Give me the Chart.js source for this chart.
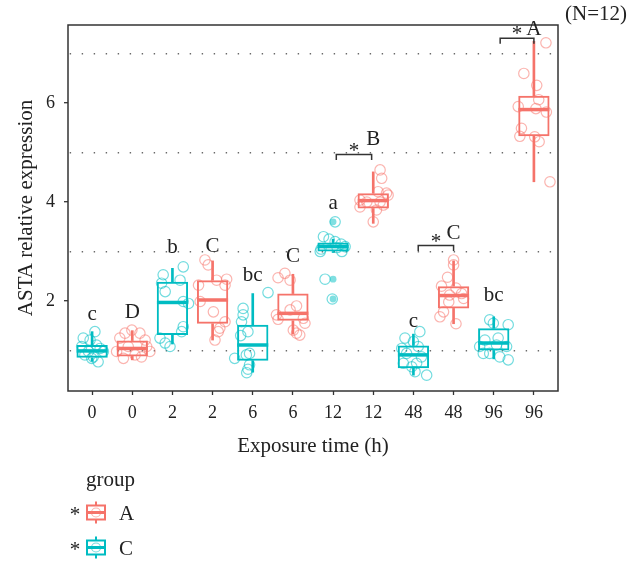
<!DOCTYPE html>
<html>
<head>
<meta charset="utf-8">
<script src="https://cdn.jsdelivr.net/npm/chart.js@4/dist/chart.umd.min.js"></script>
<style>
  html, body { margin: 0; padding: 0; background: #fff; }
  #wrap { width: 643px; height: 565px; }
</style>
</head>
<body>
<div id="wrap"><canvas id="chart" width="643" height="565"></canvas></div>
<script>
// Exposure-time categories (one box per time point and group)
const timeLabels = ['0', '0', '2', '2', '6', '6', '12', '12', '48', '48', '96', '96'];
const boxGroup   = ['C', 'A', 'C', 'A', 'C', 'A', 'C', 'A', 'C', 'A', 'C', 'A'];

// Box statistics per position
const whiskerLow    = [0.78, 0.81, 1.13, 1.21, 0.56, 1.33, 2.98, 3.57, 0.50, 1.54, 0.83, 4.41];
const lowerQuartile = [0.85, 0.88, 1.31, 1.54, 0.79, 1.60, 3.00, 3.87, 0.64, 1.85, 1.00, 5.33];
const medianValue   = [0.99, 1.04, 1.97, 2.02, 1.11, 1.75, 3.10, 4.03, 0.91, 2.11, 1.15, 5.87];
const upperQuartile = [1.11, 1.20, 2.39, 2.42, 1.52, 2.15, 3.18, 4.18, 1.10, 2.30, 1.45, 6.15];
const whiskerHigh   = [1.38, 1.40, 2.66, 2.81, 2.15, 2.54, 3.25, 4.61, 1.33, 2.81, 1.68, 7.25];

// Outlying samples of the 12 h C box
const outliers12hC = [3.60, 2.44, 2.04];

// Individual samples: [jitter offset on the x axis, relative expression]
const pts0hC  = [[0.07,1.38],[-0.22,1.25],[-0.05,1.21],[-0.26,1.08],[0.20,1.04],[-0.18,0.91],[0.03,0.87],[0.15,0.77],[0.28,0.98],[-0.09,0.98],[0.11,1.11],[-0.01,0.84]];
const pts0hA  = [[-0.01,1.41],[-0.18,1.35],[0.19,1.35],[-0.31,1.25],[0.32,1.21],[-0.39,0.98],[-0.22,0.84],[0.23,0.87],[0.44,0.98],[0.07,0.91],[-0.10,1.08],[0.36,1.08]];
const pts2hC  = [[0.27,2.69],[-0.23,2.53],[0.19,2.42],[-0.27,2.36],[-0.18,2.19],[0.27,1.99],[0.40,1.95],[0.27,1.48],[0.23,1.38],[-0.31,1.25],[-0.18,1.15],[-0.06,1.08]];
const pts2hA  = [[-0.19,2.83],[-0.11,2.73],[0.10,2.42],[0.35,2.44],[-0.35,2.32],[0.31,2.32],[-0.31,1.99],[0.02,1.78],[0.31,1.58],[0.18,1.45],[0.14,1.38],[0.06,1.21]];
const pts6hC  = [[0.38,2.17],[-0.24,1.85],[-0.24,1.72],[-0.28,1.58],[-0.12,1.38],[-0.30,1.30],[-0.08,0.94],[-0.45,0.84],[-0.16,0.91],[-0.08,0.71],[-0.12,0.62],[-0.15,0.55]];
const pts6hA  = [[-0.37,2.47],[-0.20,2.56],[-0.07,2.42],[0.09,1.90],[-0.07,1.82],[-0.41,1.72],[-0.37,1.63],[0.30,1.55],[0.01,1.41],[0.09,1.35],[0.17,1.31],[0.26,1.65]];
const pts12hC = [[0.05,3.60],[-0.24,3.30],[-0.10,3.25],[0.05,3.20],[0.20,3.15],[0.30,3.10],[-0.30,3.05],[-0.32,3.00],[0.22,3.00],[0.10,3.08],[-0.20,2.44],[-0.02,2.04]];
const pts12hA = [[0.17,4.65],[0.21,4.48],[0.12,4.21],[-0.33,4.04],[-0.16,4.00],[0.17,4.00],[0.37,4.14],[-0.33,3.90],[0.08,3.84],[0.25,3.94],[0.00,3.60],[0.33,4.18]];
const pts48hC = [[0.16,1.38],[-0.21,1.25],[0.00,1.18],[-0.29,1.04],[0.12,1.08],[-0.17,0.94],[0.20,0.87],[-0.25,0.74],[-0.04,0.67],[0.08,0.74],[0.04,0.57],[0.33,0.50]];
const pts48hA = [[0.00,2.83],[0.00,2.73],[-0.15,2.48],[-0.30,2.30],[0.06,2.26],[0.20,2.15],[-0.10,2.12],[0.25,2.05],[-0.12,1.98],[-0.25,1.78],[-0.34,1.68],[0.06,1.54]];
const pts96hC = [[-0.10,1.62],[-0.01,1.55],[0.36,1.52],[0.11,1.25],[-0.22,1.21],[-0.26,0.94],[-0.10,0.94],[0.15,0.87],[0.36,0.81],[0.32,1.08],[-0.35,1.08],[0.07,1.11]];
const pts96hA = [[0.30,7.22],[-0.25,6.60],[0.07,6.36],[0.12,6.07],[-0.39,5.93],[0.05,5.89],[0.31,5.82],[-0.31,5.49],[-0.35,5.33],[0.02,5.32],[0.13,5.22],[0.40,4.41]];
const samplesByBox = [pts0hC, pts0hA, pts2hC, pts2hA, pts6hC, pts6hA, pts12hC, pts12hA, pts48hC, pts48hA, pts96hC, pts96hA];

// Significance letters (baseline value) per box
const sigLetters     = ['c', 'D', 'b', 'C', 'bc', 'C', 'a', 'B', 'c', 'C', 'bc', 'A'];
const letterBaseline = [1.62, 1.66, 2.98, 3.00, 2.41, 2.79, 3.85, 5.15, 1.48, 3.25, 1.99, 7.37];

// Pairwise comparison brackets
const bracketFrom = [7.08, 9.12, 11.16];
const bracketTo   = [7.96, 10.00, 12.00];
const bracketAt   = [4.96, 3.12, 7.31];
const bracketMark = ['*', '*', '*'];

// Y axis ticks: labelled even values, dotted reference lines at odd values
const yTickValues = [1, 2, 3, 4, 5, 6, 7];
const yLabelled   = [2, 4, 6];

const groupNames = ['A', 'C'];
const groupColor = { A: 'rgb(245,115,106)', C: 'rgb(0,188,194)' };
const groupFaint = { A: 'rgba(248,118,109,0.55)', C: 'rgba(0,191,196,0.55)' };
const groupFill  = { A: 'rgba(248,118,109,0.5)', C: 'rgba(0,191,196,0.5)' };

const SERIF = '"Liberation Serif", "DejaVu Serif", serif';
const INK = '#222';

function datasetsFor(g) {
  const idx = boxGroup.map((b, i) => b === g ? i : -1).filter(i => i >= 0);
  const whiskers = [];
  idx.forEach(i => {
    whiskers.push({ x: i + 1, y: [whiskerLow[i], lowerQuartile[i]] });
    whiskers.push({ x: i + 1, y: [upperQuartile[i], whiskerHigh[i]] });
  });
  const boxes = idx.map(i => ({ x: i + 1, y: [lowerQuartile[i], upperQuartile[i]] }));
  const medians = idx.map(i => ({ x: i + 1, y: medianValue[i] }));
  const samples = [];
  idx.forEach(i => samplesByBox[i].forEach(([dx, v]) => samples.push({ x: i + 1 + dx, y: v })));
  return [
    { type: 'bar', label: g + ' whisker', data: whiskers, grouped: false, barThickness: 2,
      backgroundColor: groupColor[g], borderWidth: 0, order: 5 },
    { type: 'bar', label: g + ' box', data: boxes, grouped: false, barPercentage: 0.78, categoryPercentage: 1,
      backgroundColor: 'rgba(255,255,255,0)', borderColor: groupColor[g], borderWidth: 2,
      borderSkipped: false, order: 4 },
    { type: 'scatter', label: g + ' median', data: medians, pointStyle: 'line', pointRadius: 15.5,
      borderColor: groupColor[g], borderWidth: 3.5, order: 3 },
    { type: 'scatter', label: g, data: samples, pointStyle: 'circle', pointRadius: 5.2,
      borderColor: groupFaint[g], backgroundColor: 'rgba(0,0,0,0)', borderWidth: 1.2, order: 1 }
  ];
}

const outlierSet = {
  type: 'scatter', label: 'C outliers',
  data: outliers12hC.map(v => ({ x: 7, y: v })),
  pointStyle: 'circle', pointRadius: 3.4, borderWidth: 0,
  backgroundColor: groupFill.C, order: 2
};

// Frame, significance annotations, sample-size note and legend
const overlay = {
  id: 'overlay',
  afterDraw(chart) {
    const { ctx, chartArea: a, scales: { x, y } } = chart;
    ctx.save();
    ctx.strokeStyle = '#333';
    ctx.lineWidth = 1.5;
    ctx.strokeRect(a.left, a.top, a.right - a.left, a.bottom - a.top);

    ctx.fillStyle = INK;
    ctx.font = '21px ' + SERIF;
    ctx.textAlign = 'center';
    ctx.textBaseline = 'alphabetic';
    sigLetters.forEach((t, i) => {
      ctx.fillText(t, x.getPixelForValue(i + 1), y.getPixelForValue(letterBaseline[i]));
    });

    ctx.lineWidth = 1.5;
    bracketAt.forEach((v, i) => {
      const x1 = x.getPixelForValue(bracketFrom[i]);
      const x2 = x.getPixelForValue(bracketTo[i]);
      const yy = y.getPixelForValue(v);
      ctx.beginPath();
      ctx.moveTo(x1, yy + 5.5);
      ctx.lineTo(x1, yy);
      ctx.lineTo(x2, yy);
      ctx.lineTo(x2, yy + 5.5);
      ctx.stroke();
      ctx.fillText(bracketMark[i], (x1 + x2) / 2, yy + 2);
    });

    ctx.textAlign = 'left';
    ctx.fillText('(N=12)', 565, 19.5);

    // legend
    ctx.fillText('group', 86, 486);
    groupNames.forEach((g, k) => {
      const cy = 512.5 + k * 35;
      ctx.fillStyle = INK;
      ctx.textAlign = 'center';
      ctx.fillText('*', 75, cy + 8);
      ctx.textAlign = 'left';
      ctx.fillText(g, 119, cy + 7);
      ctx.strokeStyle = groupColor[g];
      ctx.lineWidth = 2;
      ctx.strokeRect(87, cy - 7, 18, 14);
      ctx.beginPath();
      ctx.moveTo(96, cy - 11); ctx.lineTo(96, cy - 7);
      ctx.moveTo(96, cy + 7); ctx.lineTo(96, cy + 11);
      ctx.stroke();
      ctx.lineWidth = 3;
      ctx.beginPath();
      ctx.moveTo(87, cy); ctx.lineTo(105, cy);
      ctx.stroke();
      ctx.strokeStyle = groupFaint[g];
      ctx.lineWidth = 1.2;
      ctx.beginPath();
      ctx.arc(96, cy, 4.5, 0, Math.PI * 2);
      ctx.stroke();
    });
    ctx.restore();
  }
};

Chart.defaults.font.family = SERIF;
Chart.defaults.color = INK;

new Chart(document.getElementById('chart'), {
  type: 'bar',
  data: { datasets: [...datasetsFor('C'), ...datasetsFor('A'), outlierSet] },
  options: {
    responsive: false,
    animation: false,
    events: [],
    layout: { padding: { top: 25, right: 85, left: 0, bottom: 0 } },
    plugins: { legend: { display: false }, tooltip: { enabled: false } },
    scales: {
      x: {
        type: 'linear', min: 0.4, max: 12.6, offset: false,
        afterBuildTicks: axis => { axis.ticks = timeLabels.map((_, i) => ({ value: i + 1 })); },
        afterFit: axis => { axis.height = 174; },
        ticks: { callback: v => timeLabels[v - 1], font: { size: 18 }, color: INK, padding: 7, maxRotation: 0, autoSkip: false },
        grid: { offset: false, drawOnChartArea: false, drawTicks: true, tickLength: 4, tickColor: '#333', tickWidth: 1.3 },
        border: { display: false },
        title: { display: true, text: 'Exposure time (h)', font: { size: 21 }, color: INK, padding: { top: 0, bottom: 106 } }
      },
      y: {
        type: 'linear', min: 0.18, max: 7.58,
        afterBuildTicks: axis => { axis.ticks = yTickValues.map(v => ({ value: v })); },
        afterFit: axis => { axis.width = 68; },
        ticks: { callback: v => yLabelled.includes(v) ? String(v) : '', font: { size: 18 }, color: INK, padding: 9, autoSkip: false },
        grid: {
          drawOnChartArea: true, drawTicks: true, tickLength: 4, tickWidth: 1.3,
          color: c => (c.tick && !yLabelled.includes(c.tick.value)) ? '#6a6a6a' : 'rgba(0,0,0,0)',
          tickColor: c => (c.tick && yLabelled.includes(c.tick.value)) ? '#333' : 'rgba(0,0,0,0)',
          lineWidth: 1.4
        },
        border: { display: false, dash: [1.4, 10.6], dashOffset: 10.3 },
        title: { display: true, text: 'ASTA relative expression', font: { size: 21 }, color: INK, padding: { top: 14, bottom: 0 } }
      }
    }
  },
  plugins: [overlay]
});
</script>
</body>
</html>
